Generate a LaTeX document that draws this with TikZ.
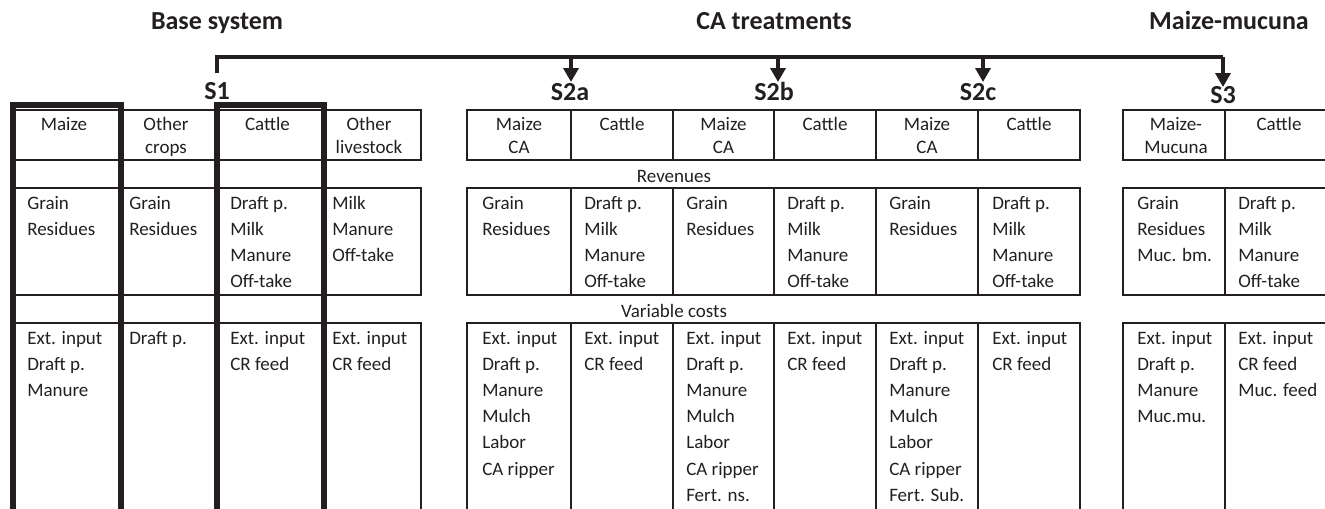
\documentclass[tikz,border=0pt]{standalone}
\usepackage{fontspec}
\setmainfont{Carlito}
\usetikzlibrary{arrows.meta,fit}
\definecolor{ink}{HTML}{231F20}
\tikzset{
 x=0.75pt, y=-0.75pt,
 cell/.style={draw=ink, line width=2pt, inner sep=0pt, rectangle},
 hl/.style={draw=ink, line width=4.9pt, line join=miter},
 bus/.style={draw=ink, line width=3pt, line join=miter},
 arr/.style={draw=ink, line width=3pt, -{Triangle[width=11.25pt,length=10.5pt]}},
 txt/.style={text=ink, font=\fontsize{14.25pt}{17pt}\selectfont, inner sep=0pt},
 ttl/.style={text=ink, font=\fontsize{19.5pt}{23pt}\selectfont\bfseries, inner sep=0pt, anchor=base},
}
\newcommand{\mkcell}[5]{\node[cell, fit={(#2,#3) (#4,#5)}] (#1) {};}
\newcommand{\bodytext}[4]{\foreach \t [count=\i] in {#4} {\node[txt, anchor=base west] (#1-\i) at (#2,{#3+(\i-1)*26.2}) {\t};}}
\newcommand{\headtext}[4]{\foreach \t [count=\i] in {#4} {\node[txt, anchor=base] (#1-\i) at (#2,{#3+(\i-1)*23}) {\t};}}
\begin{document}
\begin{tikzpicture}
\useasboundingbox (0,0) rectangle (1325,508);
% titles
\node[ttl] (tbase) at (217,29) {Base system};
\node[ttl] (tca) at (774,29) {CA treatments};
\node[ttl] (tmm) at (1229,29) {Maize-mucuna};
% scenario labels
\node[ttl] (s1) at (217,99) {S1};
\node[ttl] (s2a) at (570,100) {S2a};
\node[ttl] (s2b) at (774,100) {S2b};
\node[ttl] (s2c) at (978,100) {S2c};
\node[ttl] (s3) at (1223,103) {S3};
% connector
\coordinate (stub) at (217,73);
\coordinate (busR) at (1223,57);
\coordinate (t2a) at (571,82);
\coordinate (t2b) at (778,82);
\coordinate (t2c) at (983,82);
\coordinate (t3) at (1223,87);
\draw[bus] (stub) |- (busR);
\draw[arr] (t2a |- busR) -- (t2a);
\draw[arr] (t2b |- busR) -- (t2b);
\draw[arr] (t2c |- busR) -- (t2c);
\draw[arr] (busR) -- (t3);
% ---- base system cells
\foreach \n/\a/\b in {bm/13/121, bo/121/217, bc/217/324, bl/324/421} {
  \mkcell{\n h}{\a}{110}{\b}{160}
  \mkcell{\n r}{\a}{188}{\b}{295}
  \mkcell{\n c}{\a}{323}{\b}{545}
}
% ---- CA cells
\foreach \n/\a/\b in {am/467/571, ac/571/673, bbm/673/774, bbc/774/876, cm/876/978, cc/978/1080, mm/1123/1225, mc/1225/1335} {
  \mkcell{\n h}{\a}{110}{\b}{160}
  \mkcell{\n r}{\a}{188}{\b}{295}
  \mkcell{\n c}{\a}{323}{\b}{545}
}
% thick highlight frames
\draw[hl] (13,545) -- (13,105) -- (121,105) -- (121,545);
\draw[hl] (217,545) -- (217,105) -- (324,105) -- (324,545);
% row labels
\node[txt, anchor=base] (rev) at (674,182) {Revenues};
\node[txt, anchor=base] (vc) at (674,317) {Variable costs};
% base texts
\headtext{hbm}{64}{130}{Maize}
\headtext{hbo}{166}{130}{Other,crops}
\headtext{hbc}{267.5}{130}{Cattle}
\headtext{hbl}{369}{130}{Other,livestock}
\bodytext{rbm}{27}{209}{Grain,Residues}
\bodytext{rbo}{129}{209}{Grain,Residues}
\bodytext{rbc}{230}{209}{Draft p.,Milk,Manure,Off-take}
\bodytext{rbl}{332}{209}{Milk,Manure,Off-take}
\bodytext{cbm}{27}{344}{Ext. input,Draft p.,Manure}
\bodytext{cbo}{129}{344}{Draft p.}
\bodytext{cbc}{230}{344}{Ext. input,CR feed}
\bodytext{cbl}{332}{344}{Ext. input,CR feed}
% CA texts
\headtext{ham}{519}{130}{Maize,CA}
\headtext{hac}{622}{130}{Cattle}
\headtext{hbbm}{723.5}{130}{Maize,CA}
\headtext{hbbc}{825}{130}{Cattle}
\headtext{hcm}{927}{130}{Maize,CA}
\headtext{hcc}{1029}{130}{Cattle}
\bodytext{ram}{482}{209}{Grain,Residues}
\bodytext{rac}{584}{209}{Draft p.,Milk,Manure,Off-take}
\bodytext{rbbm}{686}{209}{Grain,Residues}
\bodytext{rbbc}{787}{209}{Draft p.,Milk,Manure,Off-take}
\bodytext{rcm}{889}{209}{Grain,Residues}
\bodytext{rcc}{992}{209}{Draft p.,Milk,Manure,Off-take}
\bodytext{cam}{482}{344}{Ext. input,Draft p.,Manure,Mulch,Labor,CA ripper}
\bodytext{cac}{584}{344}{Ext. input,CR feed}
\bodytext{cbbm}{686}{344}{Ext. input,Draft p.,Manure,Mulch,Labor,CA ripper,Fert. ns.}
\bodytext{cbbc}{787}{344}{Ext. input,CR feed}
\bodytext{ccm}{889}{344}{Ext. input,Draft p.,Manure,Mulch,Labor,CA ripper,Fert. Sub.}
\bodytext{ccc}{992}{344}{Ext. input,CR feed}
% maize-mucuna texts
\headtext{hmm}{1176}{130}{Maize-,Mucuna}
\headtext{hmc}{1279}{130}{Cattle}
\bodytext{rmm}{1137}{209}{Grain,Residues,Muc. bm.}
\bodytext{rmc}{1238}{209}{Draft p.,Milk,Manure,Off-take}
\bodytext{cmm}{1137}{344}{Ext. input,Draft p.,Manure,Muc.mu.}
\bodytext{cmc}{1238}{344}{Ext. input,CR feed,Muc. feed}
\end{tikzpicture}
\end{document}
